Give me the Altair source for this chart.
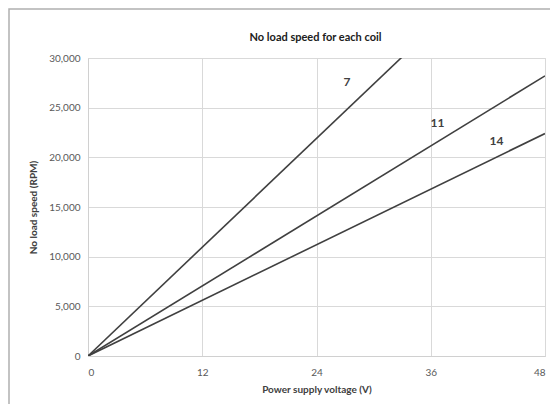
import altair as alt
import pandas as pd

voltage = [0, 48]
coil_names = ["7", "11", "14"]
speed_7 = [0, 43800]
speed_11 = [0, 28200]
speed_14 = [0, 22400]

label_text = ["7", "11", "14"]
label_x = [27.2, 36.7, 42.9]
label_y = [27600, 23500, 21600]

title_text = "No load speed for each coil"

rows = []
for name, series in zip(coil_names, [speed_7, speed_11, speed_14]):
    for v, s in zip(voltage, series):
        rows.append({"coil": name, "voltage": v, "speed": s})
df = pd.DataFrame(rows)
labels = pd.DataFrame({"text": label_text, "voltage": label_x, "speed": label_y})

W, H = 457, 298
FONT = "Lato"

xs = alt.Scale(domain=[0, 48], nice=False, zero=True)
ys = alt.Scale(domain=[0, 30000], nice=False)

lines = alt.Chart(df).mark_line(color="#404040", strokeWidth=1.6, clip=True).encode(
    x=alt.X("voltage:Q", scale=xs,
            axis=alt.Axis(values=[0, 12, 24, 36, 48], title="Power supply voltage (V)",
                          titleFont=FONT, titleFontSize=10, titleFontWeight="bold",
                          titleColor="#404040", titlePadding=7,
                          labelFont=FONT, labelFontSize=10, labelColor="#595959",
                          labelPadding=11, ticks=False, domainColor="#d0d0d0",
                          gridColor="#d9d9d9")),
    y=alt.Y("speed:Q", scale=ys,
            axis=alt.Axis(values=[0, 5000, 10000, 15000, 20000, 25000, 30000], format=",.0f",
                          title="No load speed (RPM)",
                          titleFont=FONT, titleFontSize=10, titleFontWeight="bold",
                          titleColor="#404040", titlePadding=10,
                          labelFont=FONT, labelFontSize=10, labelColor="#595959",
                          labelPadding=8, ticks=False, domainColor="#d0d0d0",
                          gridColor="#d9d9d9")),
    detail="coil:N",
)

text = alt.Chart(labels).mark_text(font=FONT, fontSize=12, fontWeight="bold",
                                   color="#404040", align="center", baseline="middle").encode(
    x=alt.X("voltage:Q", scale=xs),
    y=alt.Y("speed:Q", scale=ys),
    text="text:N",
)

title = alt.Chart(pd.DataFrame({"t": [title_text]})).mark_text(
    font=FONT, fontSize=11, fontWeight="bold", color="#202020",
    align="center", baseline="middle"
).encode(text="t:N", x=alt.value(W / 2 - 1), y=alt.value(-20))

border = alt.Chart(pd.DataFrame({"a": [0]})).mark_rect(
    fill=None, stroke="#b0b0b0", strokeWidth=1.5, clip=False
).encode(
    x=alt.value(-79), x2=alt.value(W + 60),
    y=alt.value(-49), y2=alt.value(H + 80),
)

chart = alt.layer(border, lines, text, title).properties(
    width=W, height=H,
    autosize=alt.AutoSizeParams(type="none"),
    padding={"left": 80, "top": 50, "right": 5, "bottom": 48},
).configure_view(stroke=None).configure(background="white")

chart.save("out.html", embed_options={"renderer": "svg", "actions": False})
